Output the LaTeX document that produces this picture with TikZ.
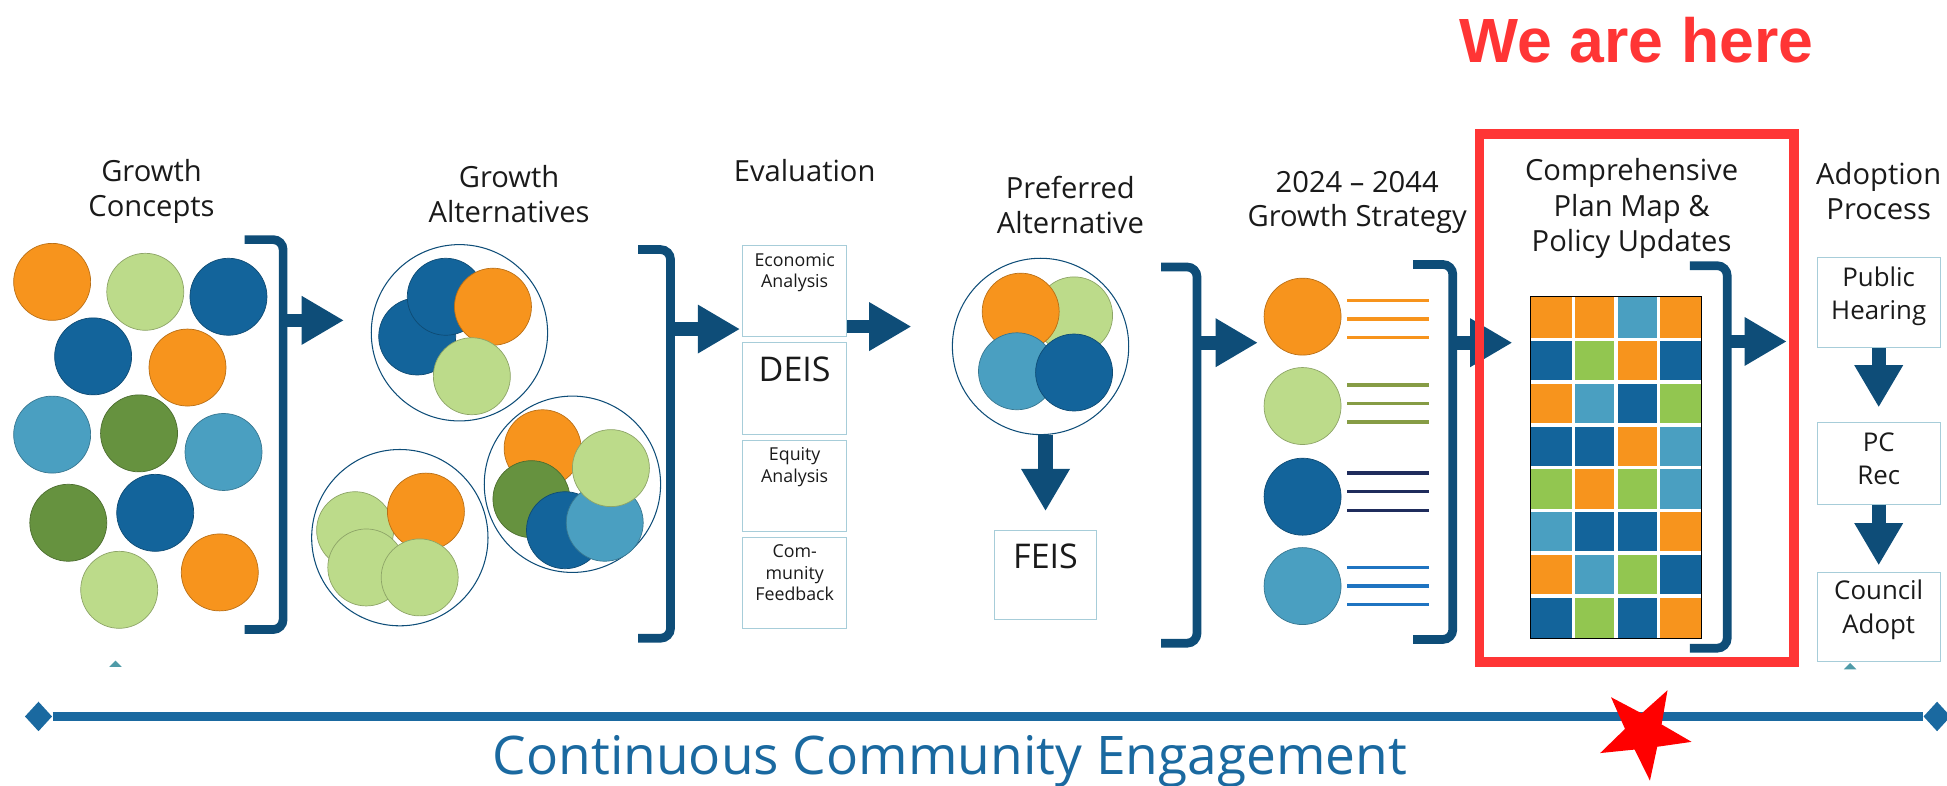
\documentclass[tikz,border=0pt]{standalone}
\usepackage{fontspec}
\setmainfont{Open Sans}
\newfontfamily\herefont{Liberation Sans}
\usepackage{tikz}
\usetikzlibrary{shapes.geometric, arrows.meta, positioning, calc}
\definecolor{Orng}{HTML}{F7941D}
\definecolor{LtGreen}{HTML}{BCDB8A}
\definecolor{DkBlue}{HTML}{13649B}
\definecolor{Teal}{HTML}{4A9FC1}
\definecolor{DkGreen}{HTML}{66923F}
\definecolor{GridGreen}{HTML}{92C650}
\definecolor{Navy}{HTML}{0E4D78}
\definecolor{BoxLine}{HTML}{A7CDD9}
\definecolor{LineBlue}{HTML}{1A69A0}
\definecolor{HereRed}{HTML}{FF3535}
\definecolor{StarRed}{HTML}{FF0000}
\definecolor{OliveLine}{HTML}{869C45}
\definecolor{NavyLine}{HTML}{1F2C5C}
\definecolor{BlueLine}{HTML}{1F74C1}
\definecolor{TealMark}{HTML}{4F9BA8}
\definecolor{Ink}{HTML}{1A1A1A}

\begin{document}
\begin{tikzpicture}[
    x=0.25mm, y=-0.25mm,
    title/.style={font=\fontsize{16.7}{20}\selectfont, align=center, text=Ink},
    dot/.style={circle, inner sep=0pt, minimum size=15.5mm, fill=#1,
                draw=#1!75!black, line width=0.4pt},
    ring/.style={circle, inner sep=0pt, minimum size=35.5mm, draw=Navy, line width=0.6pt},
    brk/.style={draw=Navy, line width=1.75mm, rounded corners=2mm},
    bigarrow/.style={draw=Navy, line width=2.75mm, -{Triangle[length=8.5mm, width=9.2mm]}},
    evbox/.style={rectangle, draw=BoxLine, line width=0.5pt, minimum width=21mm,
                  minimum height=18.4mm, inner sep=0pt},
    evtext/.style={font=\fontsize{10.2}{12.3}\selectfont, align=center, inner sep=0pt, text=Ink},
    bigtext/.style={font=\fontsize{19.5}{23}\selectfont, inner sep=0pt, text=Ink},
    apbox/.style={rectangle, draw=BoxLine, line width=0.5pt, minimum width=24.75mm, inner sep=0pt},
    aptext/.style={font=\fontsize{14.8}{19}\selectfont, align=center, inner sep=0pt, text=Ink},
    stripe/.style={draw=#1, line width=0.7mm}
]
    \useasboundingbox (0,0) rectangle (1568,633);

    % Stage titles
    \node[title] (concepts) at (122,154) {Growth\\Concepts};
    \node[title] (alts) at (410,156) {Growth\\Alternatives};
    \node[title, anchor=base] (evaltitle) at (648,146) {Evaluation};
    \node[title] (preftitle) at (862,165) {Preferred\\Alternative};
    \node[title] (strattitle) at (1093,163) {2024 – 2044\\Growth Strategy};
    \node[title, font=\fontsize{16.7}{20.2}\selectfont] (comptitle) at (1314,168)
          {Comprehensive\\Plan Map \&\\Policy Updates};
    \node[title] (adopttitle) at (1513,154) {Adoption\\Process};

    % Growth concepts
    \foreach \x/\y/\c [count=\i] in {42/227/Orng, 117/235/LtGreen, 184/239/DkBlue,
        75/287/DkBlue, 151/296/Orng, 42/350/Teal, 112/349/DkGreen, 180/364/Teal,
        55/421/DkGreen, 125/413/DkBlue, 96/475/LtGreen, 177/461/Orng}
        \node[dot=\c] (con\i) at (\x,\y) {};

    % Growth alternatives
    \node[ring] (alta) at (370,268) {};
    \node[ring] (altb) at (322,433) {};
    \node[ring] (altc) at (461,390) {};
    \foreach \x/\y/\c [count=\i] in {336/271/DkBlue, 359/239/DkBlue, 397/247/Orng, 380/303/LtGreen}
        \node[dot=\c] (alta\i) at (\x,\y) {};
    \foreach \x/\y/\c [count=\i] in {286/427/LtGreen, 295/457/LtGreen, 343/412/Orng, 338/465/LtGreen}
        \node[dot=\c] (altb\i) at (\x,\y) {};
    \foreach \x/\y/\c [count=\i] in {437/361/Orng, 428/402/DkGreen, 455/427/DkBlue,
        487/421/Teal, 492/377/LtGreen}
        \node[dot=\c] (altc\i) at (\x,\y) {};

    % Evaluation
    \node[evbox] (eco) at (640,234.5) {};
    \node[evbox, below=1mm of eco] (deis) {};
    \node[evbox, below=1mm of deis] (equity) {};
    \node[evbox, below=1mm of equity] (comm) {};
    \node[evtext, below=1.6mm of eco.north] (ecotext) {Economic\\Analysis};
    \node[bigtext, below=2.9mm of deis.north] (deistext) {DEIS};
    \node[evtext, below=1.6mm of equity.north] (equitytext) {Equity\\Analysis};
    \node[evtext, below=1.6mm of comm.north] (commtext) {Com-\\munity\\Feedback};

    % Preferred alternative
    \node[ring] (pref) at (838,279) {};
    \foreach \x/\y/\c [count=\i] in {865/254/LtGreen, 822/251/Orng, 819/299/Teal, 865/300/DkBlue}
        \node[dot=\c] (pref\i) at (\x,\y) {};
    \node[evbox, minimum width=20.5mm, minimum height=18mm] (feis) at (842,463) {};
    \node[bigtext, below=2.75mm of feis.north] (feistext) {FEIS};
    \draw[bigarrow, line width=3mm, shorten >=3.75mm] (feis.north |- pref.south) -- (feis.north);

    % Growth strategy
    \foreach \y/\ly/\c/\l [count=\i] in {255/257/Orng/Orng, 327/325/LtGreen/OliveLine,
        400/396/DkBlue/NavyLine, 472/472/Teal/BlueLine} {
        \node[dot=\c] (strat\i) at (1049,\y) {};
        \foreach \d in {-15,0,15}
            \draw[stripe=\l] (1085,{\ly+\d}) -- (1151,{\ly+\d});
    }

    % Plan map grid
    \foreach \row [count=\r from 0] in {{Orng,Orng,Teal,Orng}, {DkBlue,GridGreen,Orng,DkBlue},
        {Orng,Teal,DkBlue,GridGreen}, {DkBlue,DkBlue,Orng,Teal}, {GridGreen,Orng,GridGreen,Teal},
        {Teal,DkBlue,DkBlue,Orng}, {Orng,Teal,GridGreen,DkBlue}, {DkBlue,GridGreen,DkBlue,Orng}}
        \foreach \col [count=\c from 0] in \row
            \fill[\col] ({1232.6+34.4*\c},{239+34.4*\r}) rectangle ++(34.4,34.4);
    \foreach \i in {1,2,3}
        \draw[white, line width=0.7mm] ({1232.6+34.4*\i},239) -- ++(0,275.2);
    \foreach \i in {1,...,7}
        \draw[white, line width=0.7mm] (1232.6,{239+34.4*\i}) -- ++(137.6,0);
    \node[draw=black, line width=0.5pt, inner sep=0pt, minimum width=34.4mm,
          minimum height=68.8mm] (planmap) at (1301.4,376.6) {};

    % Adoption process
    \node[apbox, minimum height=18.1mm] (hearing) at (1513,243.75) {};
    \node[apbox, minimum height=16.4mm] (pcrec) at (1513,373.25) {};
    \node[apbox, minimum height=17.9mm] (council) at (1513,496.85) {};
    \node[aptext, below=1.8mm of hearing.north] (hearingtext) {Public\\Hearing};
    \node[aptext, below=2.1mm of pcrec.north] (pcrectext) {PC\\Rec};
    \node[aptext, below=1.6mm of council.north] (counciltext) {Council\\Adopt};
    \draw[bigarrow, shorten >=3mm] (hearing) -- (pcrec);
    \draw[bigarrow, shorten >=1.35mm] (pcrec) -- (council);

    % Brackets
    \draw[brk] (197,193) -- (228,193) -- (228,507) -- (197,507);
    \draw[brk] (514,201) -- (540,201) -- (540,514) -- (514,514);
    \draw[brk] (935,215) -- (964,215) -- (964,518) -- (935,518);
    \draw[brk] (1138,213) -- (1170,213) -- (1170,515) -- (1138,515);
    \draw[brk] (1361,214) -- (1391,214) -- (1391,522) -- (1361,522);

    % Arrows between stages
    \coordinate (brk1) at (228,258);  \coordinate (tip1) at (277,258);
    \coordinate (brk2) at (540,265);  \coordinate (tip2) at (596,265);
    \coordinate (tip3) at (734,263);
    \coordinate (brk4) at (964,276);  \coordinate (tip4) at (1013,276);
    \coordinate (brk5) at (1170,276); \coordinate (tip5) at (1218,276);
    \coordinate (brk6) at (1391,275); \coordinate (tip6) at (1439,275);
    \draw[bigarrow] (brk1) -- (tip1);
    \draw[bigarrow] (brk2) -- (tip2);
    \draw[bigarrow] (tip3 -| eco.east) -- (tip3);
    \draw[bigarrow] (brk4) -- (tip4);
    \draw[bigarrow] (brk5) -- (tip5);
    \draw[bigarrow] (brk6) -- (tip6);

    % We are here
    \node[draw=HereRed, line width=2mm, inner sep=0pt, minimum width=63.25mm,
          minimum height=106.25mm] (frame) at (1318,320.5) {};
    \node[font=\herefont\bfseries\fontsize{35.8}{40}\selectfont, text=HereRed,
          anchor=base] (here) at (1318,50) {We are here};

    % Small marks
    \fill[TealMark] (88,537) -- (93,532) -- (98,537) -- cycle;
    \fill[TealMark] (1485,539) -- (1490,534) -- (1495,539) -- cycle;

    % Engagement timeline
    \node[diamond, fill=LineBlue, inner sep=0pt, minimum width=5.5mm, minimum height=6mm] (tla) at (31,577) {};
    \node[diamond, fill=LineBlue, inner sep=0pt, minimum width=5.5mm, minimum height=6mm] (tlb) at (1560,577) {};
    \draw[LineBlue, line width=2mm] (tla) -- (tlb);
    \node[star, star points=5, star point ratio=2.5, fill=StarRed, inner sep=0pt,
          minimum size=19.5mm, rotate=-29] (star) at (1324,590) {};
    \node[font=\fontsize{30.5}{36}\selectfont, text=LineBlue, anchor=base] (engage)
          at (765,624) {Continuous Community Engagement};
\end{tikzpicture}
\end{document}
